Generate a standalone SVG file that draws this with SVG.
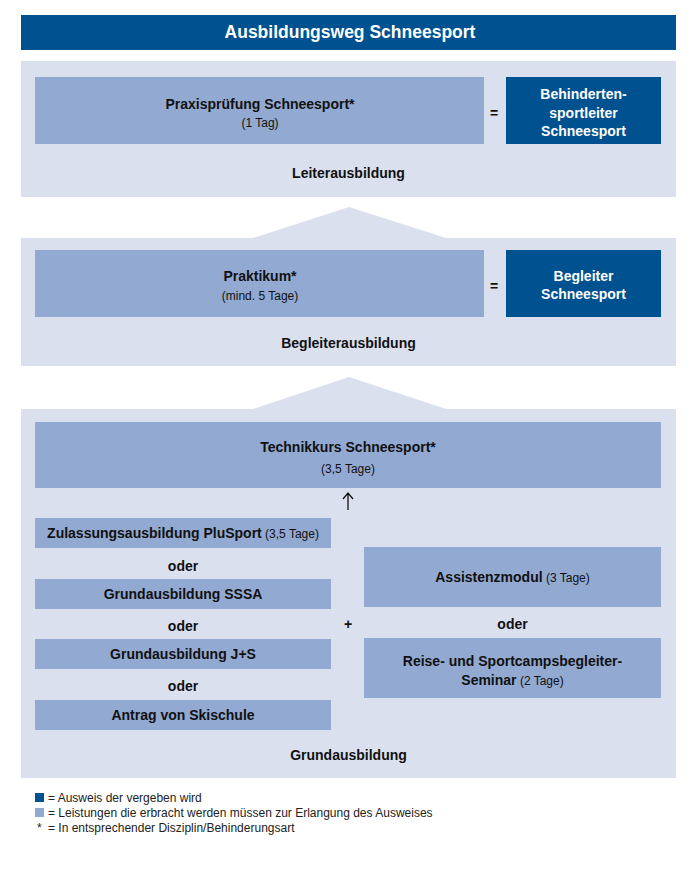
<svg xmlns="http://www.w3.org/2000/svg" width="700" height="869" viewBox="0 0 700 869">
<style>
text{font-family:"Liberation Sans",Arial,sans-serif;text-anchor:middle;fill:#111}
.b{font-weight:bold;font-size:14px}
.s{font-size:12px}
.w{fill:#fff;font-weight:bold;font-size:14px}
.panel{fill:#dbe0ef}
.mid{fill:#92a9d1}
.dark{fill:#00518f}
.lg{font-size:12px;text-anchor:start;fill:#222}
</style>
<rect width="700" height="869" fill="#fff"/>
<g id="title">
<rect x="21" y="15" width="655" height="35" class="dark"/>
<text x="350" y="38" class="w" style="font-size:17.5px">Ausbildungsweg Schneesport</text>
</g>
<g id="leiter-panel">
<rect x="21" y="61" width="655" height="136" class="panel"/>
<text x="348.5" y="178" class="b">Leiterausbildung</text>
</g>
<g id="begleiter-panel">
<polygon points="253,238 349,207 446,238" class="panel"/>
<rect x="21" y="238" width="655" height="128" class="panel"/>
<text x="348.5" y="348" class="b">Begleiterausbildung</text>
</g>
<g id="grund-panel">
<polygon points="253,409 349,377 446,409" class="panel"/>
<rect x="21" y="409" width="655" height="369" class="panel"/>
<text x="348.5" y="760" class="b">Grundausbildung</text>
</g>
<g id="praxis">
<rect x="35" y="77" width="449" height="67" class="mid"/>
<text x="260" y="109" class="b">Praxisprüfung Schneesport*</text>
<text x="260" y="127" class="s">(1 Tag)</text>
</g>
<g id="behindertensportleiter">
<rect x="506" y="77" width="155" height="67" class="dark"/>
<text x="583.5" y="99" class="w">Behinderten-</text>
<text x="583.5" y="118" class="w">sportleiter</text>
<text x="583.5" y="136" class="w">Schneesport</text>
</g>
<g id="praktikum">
<rect x="35" y="250" width="449" height="67" class="mid"/>
<text x="260" y="281" class="b">Praktikum*</text>
<text x="260" y="300" class="s">(mind. 5 Tage)</text>
</g>
<g id="begleiter">
<rect x="506" y="250" width="155" height="67" class="dark"/>
<text x="583.5" y="281" class="w">Begleiter</text>
<text x="583.5" y="299" class="w">Schneesport</text>
</g>
<g id="technikkurs">
<rect x="35" y="422" width="626" height="66" class="mid"/>
<text x="348" y="452" class="b">Technikkurs Schneesport*</text>
<text x="348" y="473" class="s">(3,5 Tage)</text>
</g>
<g id="zulassung">
<rect x="35" y="518" width="296" height="30" class="mid"/>
<text x="183" y="538"><tspan class="b">Zulassungsausbildung PluSport</tspan><tspan class="s"> (3,5 Tage)</tspan></text>
</g>
<g id="sssa">
<rect x="35" y="579" width="296" height="30" class="mid"/>
<text x="183" y="599" class="b">Grundausbildung SSSA</text>
</g>
<g id="js">
<rect x="35" y="639" width="296" height="30" class="mid"/>
<text x="183" y="659" class="b">Grundausbildung J+S</text>
</g>
<g id="antrag">
<rect x="35" y="700" width="296" height="30" class="mid"/>
<text x="183" y="720" class="b">Antrag von Skischule</text>
</g>
<g id="assistenz">
<rect x="364" y="547" width="297" height="60" class="mid"/>
<text x="512.5" y="582"><tspan class="b">Assistenzmodul</tspan><tspan class="s"> (3 Tage)</tspan></text>
</g>
<g id="reise">
<rect x="364" y="638" width="297" height="60" class="mid"/>
<text x="512.5" y="666" class="b">Reise- und Sportcampsbegleiter-</text>
<text x="512.5" y="685"><tspan class="b">Seminar</tspan><tspan class="s"> (2 Tage)</tspan></text>
</g>
<g id="connectors">
<text x="494" y="118" class="b">=</text>
<text x="494" y="291" class="b">=</text>
<path d="M348 510 V494 M343 499 L348 493 L353 499" fill="none" stroke="#111" stroke-width="1.3"/>
<text x="183" y="571" class="b">oder</text>
<text x="183" y="631" class="b">oder</text>
<text x="183" y="691" class="b">oder</text>
<text x="348" y="629" class="b">+</text>
<text x="512.5" y="629" class="b">oder</text>
</g>
<g id="legend">
<rect x="35" y="793" width="9" height="9" class="dark"/>
<rect x="35" y="808" width="9" height="9" class="mid"/>
<text x="37" y="832" class="lg">*</text>
<text x="48" y="802" class="lg">= Ausweis der vergeben wird</text>
<text x="48" y="817" class="lg">= Leistungen die erbracht werden müssen zur Erlangung des Ausweises</text>
<text x="48" y="832" class="lg">= In entsprechender Disziplin/Behinderungsart</text>
</g>
</svg>
